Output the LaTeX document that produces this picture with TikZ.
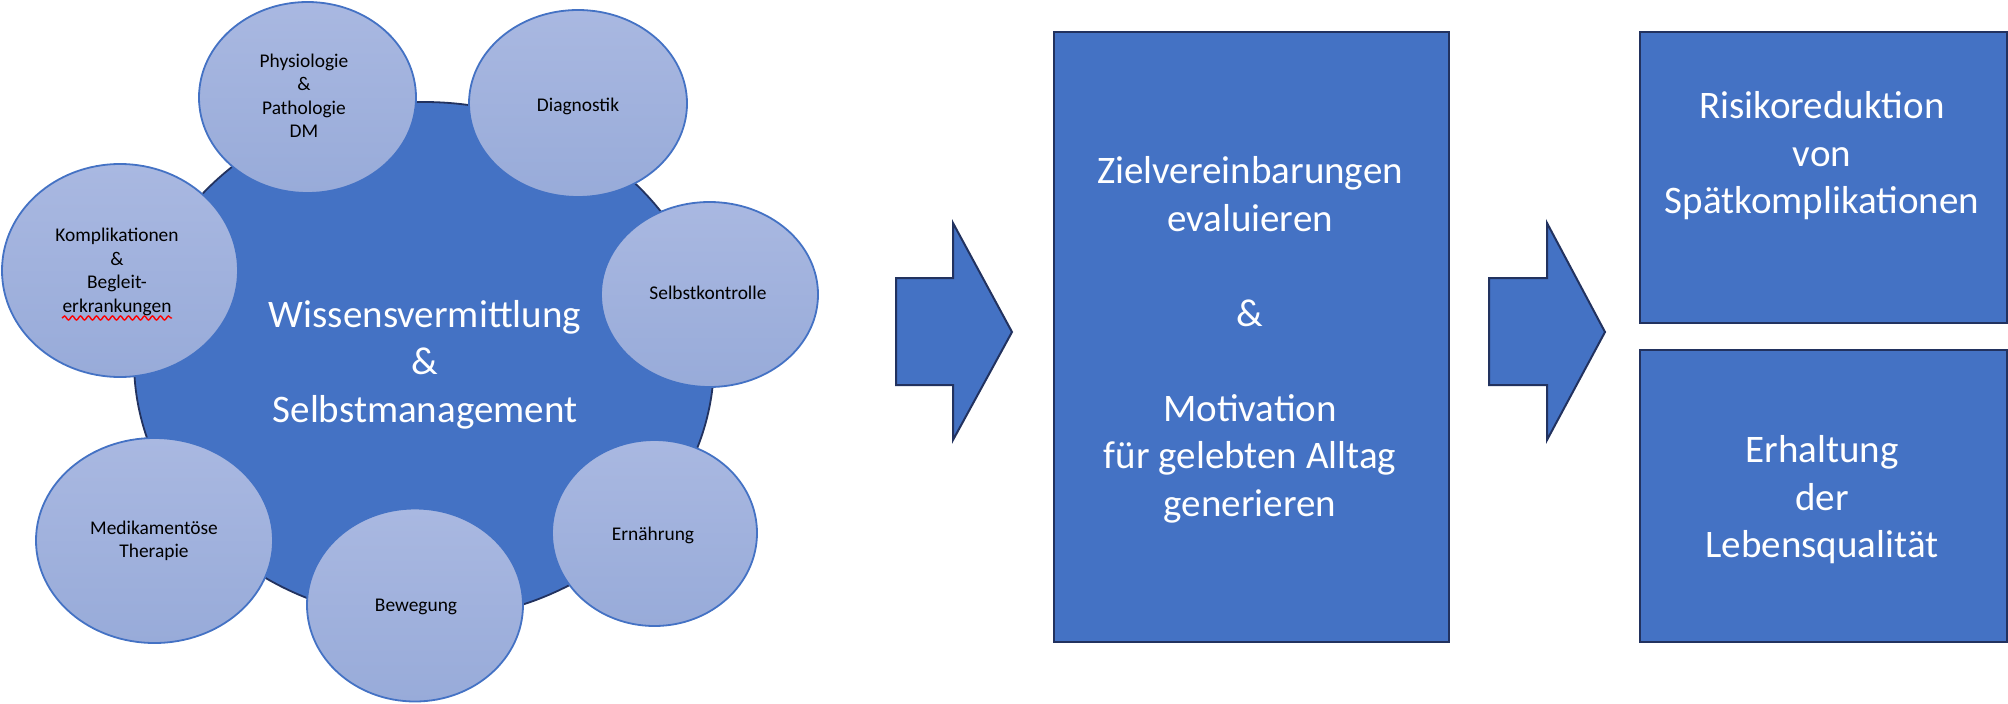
\documentclass[tikz,border=0pt]{standalone}
\usepackage{fontspec}
\setmainfont{Carlito}
\usetikzlibrary{shapes.geometric,decorations.pathmorphing}
\definecolor{acc}{HTML}{4472C4}
\definecolor{navy}{HTML}{22325F}
\definecolor{ltop}{HTML}{A9B8E1}
\definecolor{lbot}{HTML}{98ABD9}
\tikzset{
 bigtext/.style={font=\fontsize{39}{47.5}\selectfont, text=white, align=center, inner sep=0pt},
 smalltext/.style={font=\fontsize{19.4}{23.5}\selectfont, text=black, align=center, inner sep=0pt},
 topic/.style={ellipse, draw=acc, line width=1.8pt, top color=ltop, bottom color=lbot, inner sep=0pt},
 hub/.style={ellipse, draw=navy, line width=1.8pt, fill=acc, inner sep=0pt},
 panel/.style={rectangle, draw=navy, line width=2pt, fill=acc, inner sep=0pt, anchor=north west},
 flowarrow/.style={draw=navy, line width=2pt, fill=acc, line join=miter},
 spell/.style={draw=red, line width=1.4pt, decorate, decoration={snake, segment length=8pt, amplitude=2pt}},
}
\begin{document}
\begin{tikzpicture}[x=1pt,y=-1pt]
\useasboundingbox (0,0) rectangle (2008,704);

% hub
\node[hub, minimum width=580pt, minimum height=518pt] (hub) at (424,361) {};

% topic ellipses
\node[topic, minimum width=217pt, minimum height=191pt] (phys) at (307.5,97.5) {};
\node[topic, minimum width=218pt, minimum height=187pt] (diag) at (578,103.5) {};
\node[topic, minimum width=217pt, minimum height=185pt] (selbst) at (709.5,294.5) {};
\node[topic, minimum width=205pt, minimum height=186pt] (ern) at (654.5,533) {};
\node[topic, minimum width=216pt, minimum height=193pt] (bew) at (415,605) {};
\node[topic, minimum width=237pt, minimum height=205pt] (med) at (154.5,540.5) {};
\node[topic, minimum width=236pt, minimum height=213pt] (kompl) at (120,270.5) {};

% topic texts
\node[smalltext] (physT) at (304,96) {Physiologie\\\&\\Pathologie\\DM};
\node[smalltext] (diagT) at (578,106) {Diagnostik};
\node[smalltext] (selbstT) at (708,293) {Selbstkontrolle};
\node[smalltext] (ernT) at (653,535) {Ernährung};
\node[smalltext] (bewT) at (416,607) {Bewegung};
\node[smalltext] (medT) at (154,541) {Medikamentöse\\Therapie};
\node[smalltext] (komplT) at (117,272) {Komplikationen\\\&\\Begleit-\\erkrankungen};
\coordinate (wavyA) at (62,318);
\coordinate (wavyB) at (172,318);
\draw[spell] (wavyA) -- (wavyB);

% hub text
\node[bigtext] (hubT) at (425,364.5) {Wissensvermittlung\\\&\\Selbstmanagement};

% arrows
\draw[flowarrow] (896,278) -- (953,278) -- (953,223) -- (1012,332) -- (953,440) -- (953,385) -- (896,385) -- cycle;
\draw[flowarrow] (1489,278) -- (1547,278) -- (1547,223) -- (1605,332) -- (1547,440) -- (1547,385) -- (1489,385) -- cycle;

% panels
\node[panel, minimum width=395pt, minimum height=610.5pt] (mid) at (1053,30.5) {};
\node[panel, minimum width=367pt, minimum height=291.5pt] (risk) at (1639,30.5) {};
\node[panel, minimum width=367pt, minimum height=292pt] (qual) at (1639,349) {};

\node[bigtext] (midT) at (1250,340) {Zielvereinbarungen\\evaluieren\\~\\\&\\~\\Motivation\\für gelebten Alltag\\generieren};
\node[bigtext] (riskT) at (1822,156) {Risikoreduktion\\von\\Spätkomplikationen};
\node[bigtext] (qualT) at (1822,500) {Erhaltung\\der\\Lebensqualität};
\end{tikzpicture}
\end{document}
